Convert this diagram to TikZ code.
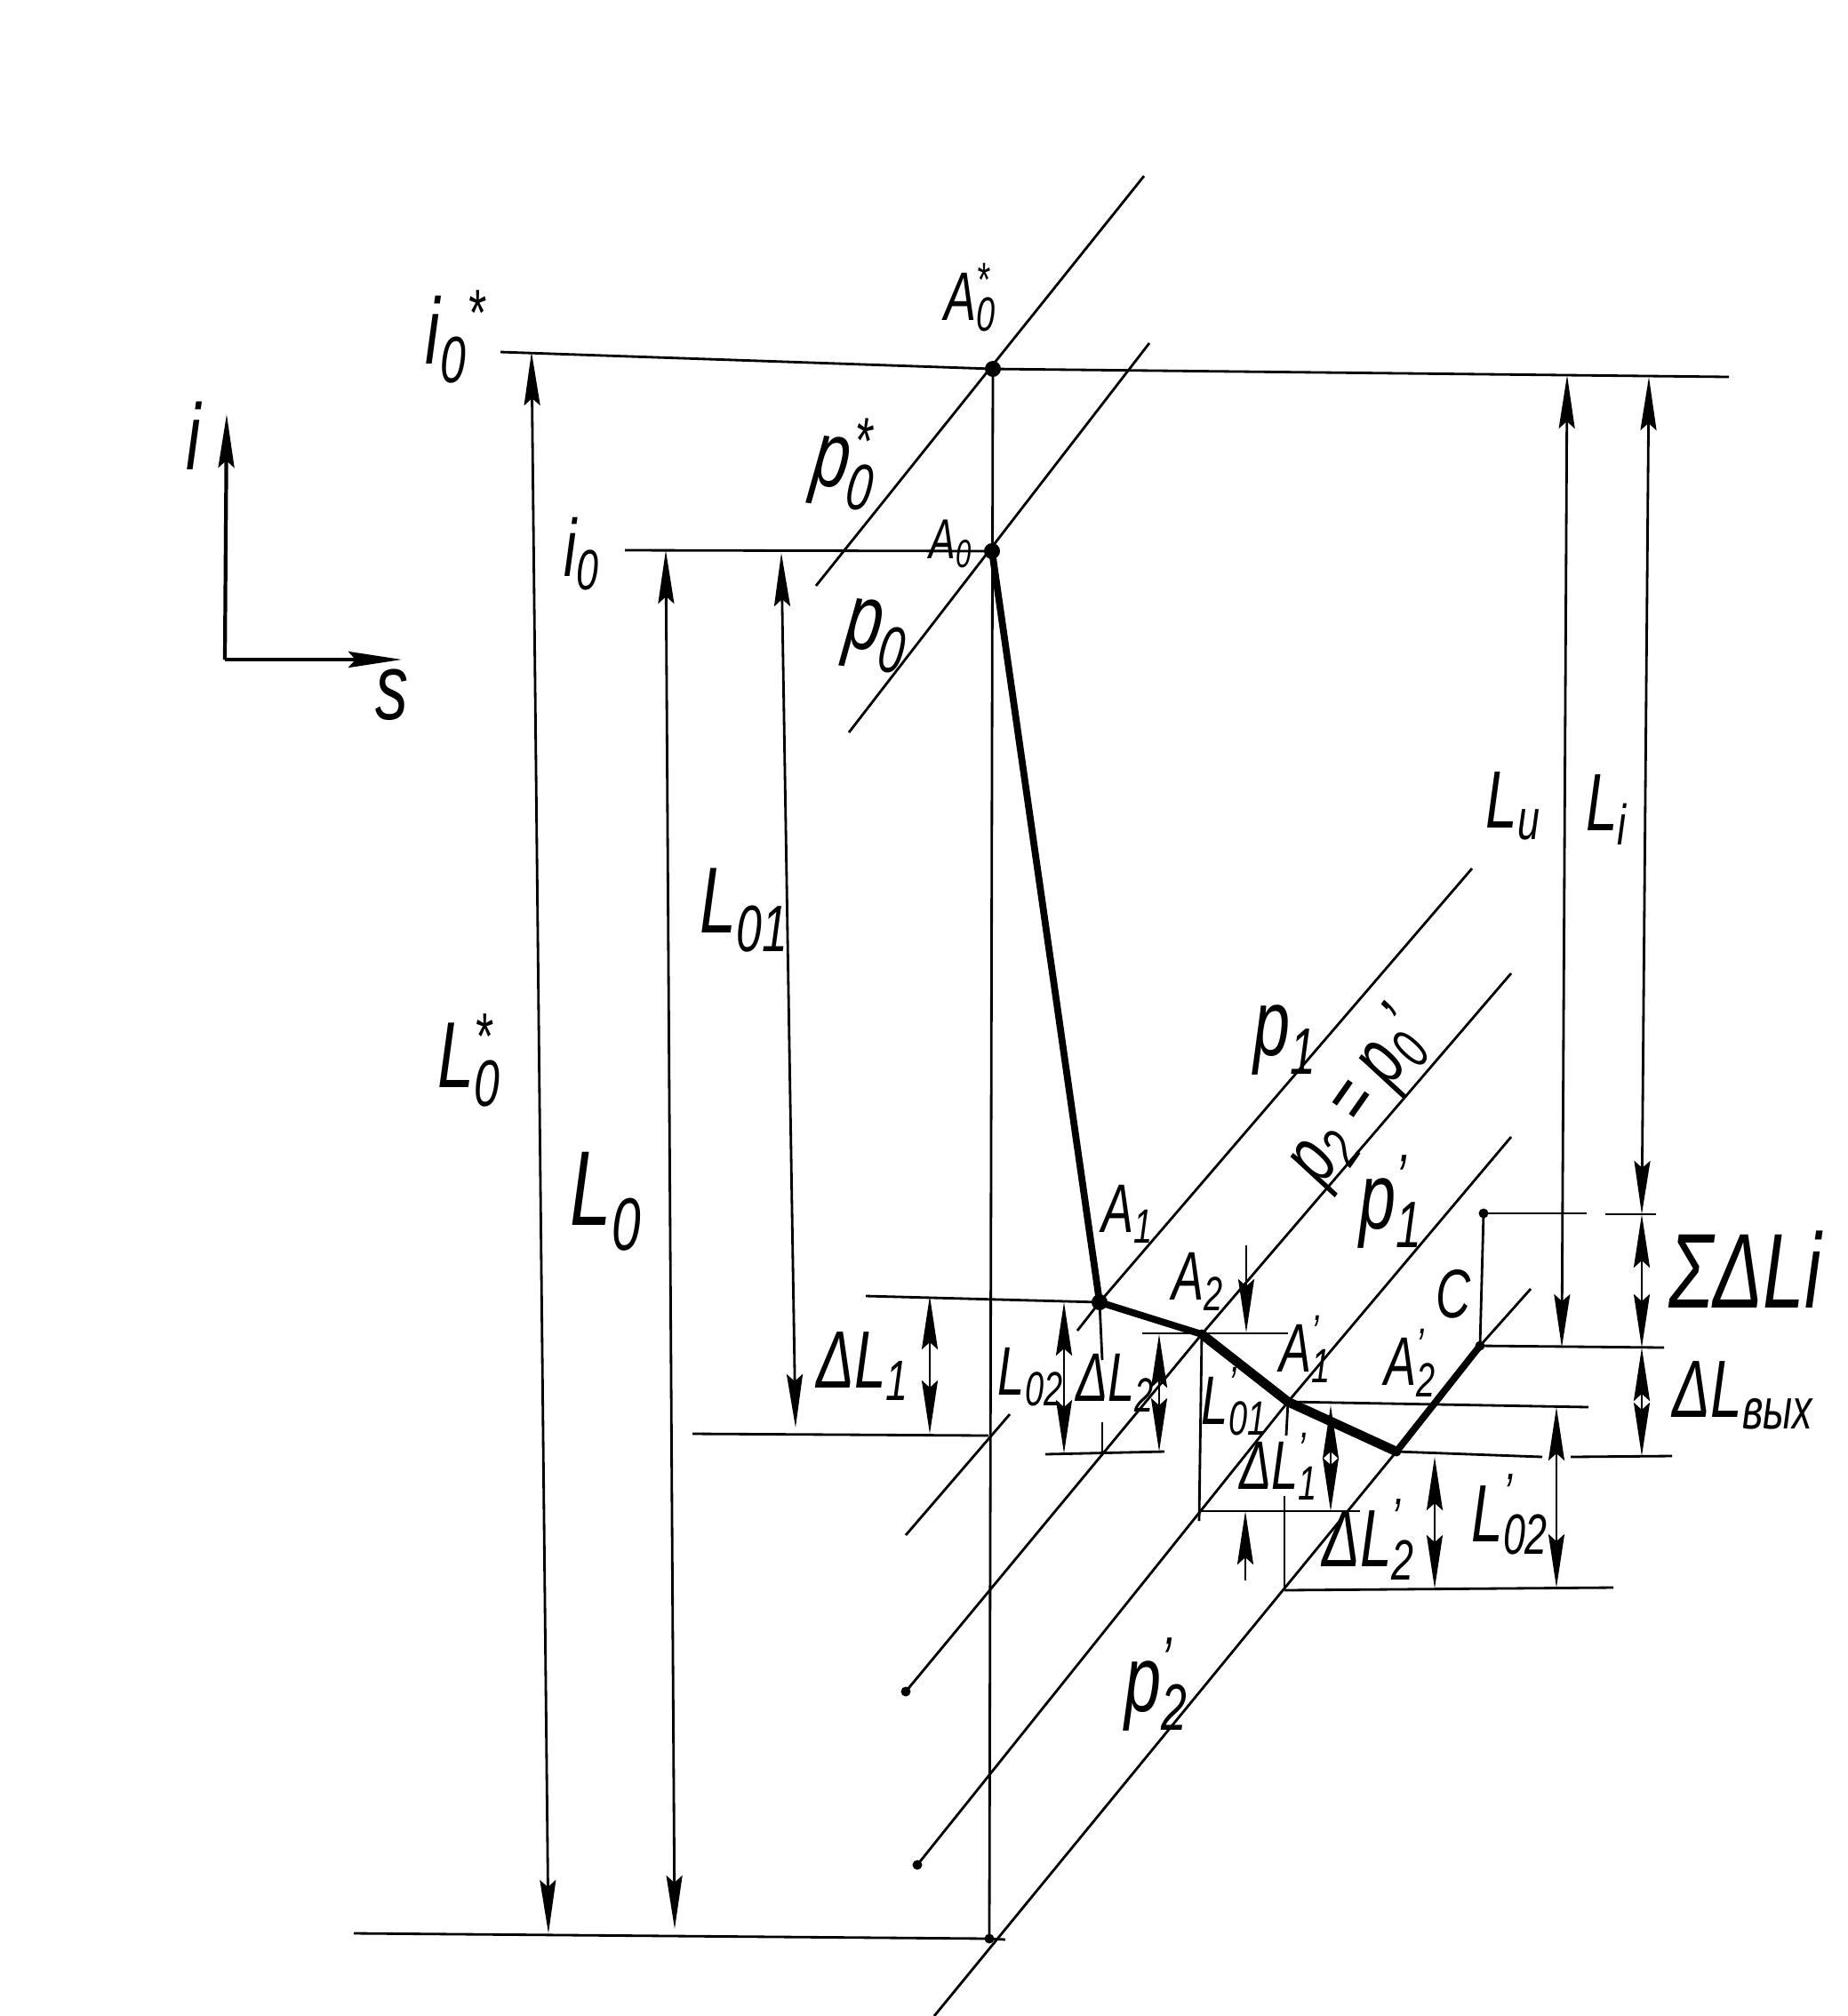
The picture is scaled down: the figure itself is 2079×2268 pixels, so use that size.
\documentclass[tikz,border=0pt]{standalone}
\usepackage{fontspec}
\setmainfont{Liberation Sans}[FakeStretch=0.7]
\usetikzlibrary{arrows.meta}
\newcommand{\hw}[3]{#1\rlap{\textsuperscript{#2}}\textsubscript{#3}}
\begin{document}
\begin{tikzpicture}[
        x=0.01cm,y=-0.01cm,
        line width=0.8pt,
        font=\itshape
    ]
    \tikzset{
        dotnode/.style = {circle, fill=black, inner sep=0pt, minimum size=0.18cm},
        smalldot/.style = {circle, fill=black, inner sep=0pt, minimum size=0.11cm},
        heavy/.style = {line width=2.2pt},
        hugelab/.style = {font=\itshape\fontsize{34}{34}\selectfont, inner sep=0pt},
        biglab/.style = {font=\itshape\fontsize{30}{30}\selectfont, inner sep=0pt},
        midlab/.style = {font=\itshape\fontsize{26}{26}\selectfont, inner sep=0pt},
        smalllab/.style = {font=\itshape\fontsize{22}{22}\selectfont, inner sep=0pt},
        dimboth/.style = {{Stealth[length=6mm,width=1.8mm,inset=0.8mm]}-{Stealth[length=6mm,width=1.8mm,inset=0.8mm]}},
        dimend/.style = {-{Stealth[length=6mm,width=1.8mm,inset=0.8mm]}},
    }
    \useasboundingbox (0,0) rectangle (2079,2268);
    % axes
    \coordinate (orig) at (253,742);
    \draw[dimend,line width=1.2pt] (orig) -- (255,466);
    \draw[dimend,line width=1.2pt] (orig) -- (452,742);
    \node[biglab] (ilab) at (218,490) {i};
    \node[biglab] (slab) at (441,782) {s};
    % main points
    \node[dotnode] (Azs) at (1117,415) {};
    \node[dotnode] (Az) at (1116,620) {};
    \node[dotnode] (Aa) at (1237,1465) {};
    \node[smalldot] (Ab) at (1352,1501) {};
    \node[smalldot] (Ac) at (1449,1577) {};
    \node[smalldot] (Ad) at (1571,1633) {};
    \node[smalldot] (Cc) at (1665,1514) {};
    \node[smalldot] (Ct) at (1669,1365) {};
    \node[smalldot] (Zb) at (1113,2181) {};
    \draw[heavy] (Az.center) -- (Aa.center) -- (Ab.center);
    \draw[line width=3pt] (Ab.center) -- (Ac.center) -- (Ad.center);
    \draw[heavy] (Ad.center) -- (Cc.center);
    \draw (Azs.center) -- (Zb.center);
    \draw (Ct.center) -- (Cc.center);
    % slanted lines
    \draw (1287,198) -- (918,659);
    \draw (1293,386) -- (955,824);
    \draw (1656,977) -- (Aa.center) -- (1212,1497);
    \draw (1136,1591) -- (1019,1727);
    \node[smalldot] (Pe) at (1019,1903) {};
    \node[smalldot] (Pf) at (1032,2098) {};
    \draw (1700,1095) -- (Ab.center) -- (Pe.center);
    \draw (1700,1279) -- (Ac.center) -- (Pf.center);
    \draw (1722,1450) -- (Cc.center);
    \draw (Ad.center) -- (1051,2268);
    % levels
    \draw (563,396) -- (Azs.center) -- (1945,424);
    \draw (703,619) -- (Az.center);
    \draw (398,2175) -- (Zb.center) -- (1131,2182);
    \draw (974,1458) -- (Aa.center);
    \draw (779,1613) -- (1112,1615);
    \draw (1176,1636) -- (1310,1633);
    \draw (1285,1500) -- (1449,1500);
    \draw (Ac.center) -- (1787,1583);
    \draw (Ad.center) -- (1735,1639);
    \draw (1767,1639) -- (1881,1638);
    \draw (1352,1700) -- (1530,1700);
    \draw (1445,1789) -- (1815,1786);
    \draw (Cc.center) -- (1872,1516);
    \draw (Ct.center) -- (1785,1365);
    \draw (1806,1366) -- (1863,1366);
    % thin verticals
    \draw (Aa.center) -- (1240,1530);
    \draw (1240,1600) -- (1240,1635);
    \draw (Ab.center) -- (1349,1711);
    \draw (Ac.center) -- (1447,1615);
    \draw (1445,1683) -- (1445,1789);
    % dimension arrows
    \draw[dimboth] (598,396) -- (617,2175);
    \draw[dimboth] (749,619) -- (759,2170);
    \draw[dimboth] (879,622) -- (895,1606);
    \draw[dimboth] (1046,1458) -- (1046,1613);
    \draw[dimboth] (1197,1465) -- (1197,1635);
    \draw[dimboth] (1304,1501) -- (1304,1633);
    \draw[dimend] (1402,1401) -- (1402,1499);
    \draw[dimend] (1401,1778) -- (1401,1700);
    \draw[dimboth] (1497,1581) -- (1497,1700);
    \draw[dimboth] (1751,1583) -- (1751,1786);
    \draw[dimboth] (1614,1639) -- (1614,1787);
    \draw[dimboth] (1763,422) -- (1757,1516);
    \draw[dimboth] (1855,424) -- (1847,1366);
    \draw[dimboth] (1847,1366) -- (1847,1516);
    \draw[dimboth] (1847,1516) -- (1847,1638);
    % labels
    \node[smalllab] (lAzs) at (1092,335) {\hw{A}{*}{0}};
    \node[font=\itshape\fontsize{18}{18}\selectfont,inner sep=0pt] (lAz) at (1070,612) {A\textsubscript{0}};
    \node[biglab] (lizs) at (513,379) {i\textsubscript{0}\textsuperscript{*}};
    \node[midlab] (liz) at (655,623) {i\textsubscript{0}};
    \node[biglab,rotate=-8] (lpzs) at (951,520) {\hw{p}{*}{0}};
    \node[biglab,rotate=-8] (lpz) at (986,715) {p\textsubscript{0}};
    \node[biglab] (lLzs) at (528,1193) {\hw{L}{*}{0}};
    \node[hugelab] (lLz) at (682,1352) {L\textsubscript{0}};
    \node[biglab] (lLza) at (838,1024) {L\textsubscript{01}};
    \node[midlab] (lLu) at (1703,907) {L\textsubscript{u}};
    \node[midlab] (lLi) at (1808,911) {L\textsubscript{i}};
    \node[biglab] (lpa) at (1446,1170) {p\textsubscript{1}};
    \node[midlab,rotate=55] (lpb) at (1530,1236) {p\textsubscript{2} = p\textsubscript{0}'};
    \node[biglab] (lpc) at (1565,1352) {\hw{p}{'}{1}};
    \node[biglab] (lpd) at (1301,1895) {\hw{p}{'}{2}};
    \node[smalllab] (lC) at (1635,1456) {C};
    \node[smalllab] (lAa) at (1269,1366) {A\textsubscript{1}};
    \node[smalllab] (lAb) at (1348,1442) {A\textsubscript{2}};
    \node[smalllab] (lAc) at (1469,1518) {\hw{A}{'}{1}};
    \node[smalllab] (lAd) at (1587,1533) {\hw{A}{'}{2}};
    \node[midlab] (ldLa) at (971,1537) {ΔL\textsubscript{1}};
    \node[smalllab] (lLzb) at (1160,1549) {L\textsubscript{02}};
    \node[smalllab] (ldLb) at (1255,1556) {ΔL\textsubscript{2}};
    \node[smalllab] (lLpa) at (1389,1577) {\hw{L}{'}{01}};
    \node[smalllab] (ldLc) at (1439,1650) {\hw{ΔL}{'}{1}};
    \node[midlab] (ldLd) at (1540,1732) {\hw{ΔL}{'}{2}};
    \node[midlab] (lLpb) at (1699,1704) {\hw{L}{'}{02}};
    \node[font=\itshape\fontsize{34}{34}\selectfont,inner sep=0pt] (lsum) at (1963,1428) {ΣΔLi};
    \node[midlab] (lout) at (1961,1570) {ΔL\textsubscript{вых}};
\end{tikzpicture}
\end{document}
